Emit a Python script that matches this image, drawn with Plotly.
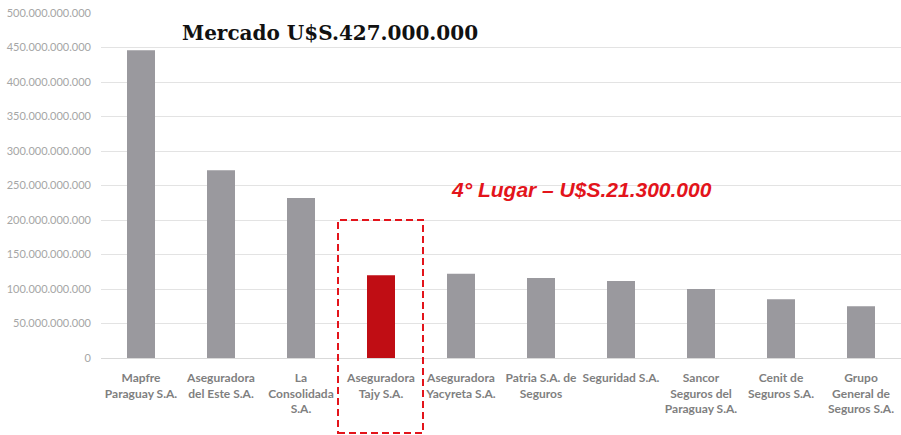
import plotly.graph_objects as go

categories = [
    "Mapfre<br>Paraguay S.A.",
    "Aseguradora<br>del Este S.A.",
    "La<br>Consolidada<br>S.A.",
    "Aseguradora<br>Tajy S.A.",
    "Aseguradora<br>Yacyreta S.A.",
    "Patria S.A. de<br>Seguros",
    "Seguridad S.A.",
    "Sancor<br>Seguros del<br>Paraguay S.A.",
    "Cenit de<br>Seguros S.A.",
    "Grupo<br>General de<br>Seguros S.A.",
]
values = [446e9, 272e9, 232e9, 120e9, 122e9, 116e9, 111.5e9, 100e9, 85e9, 75e9]
highlight_index = 3
y_ticks = [0, 50e9, 100e9, 150e9, 200e9, 250e9, 300e9, 350e9, 400e9, 450e9, 500e9]

title_text = "Mercado U$S.427.000.000"
note_text = "4° Lugar – U$S.21.300.000"

colors = ["#c00d14" if i == highlight_index else "#9a999e" for i in range(len(values))]

fig = go.Figure(go.Bar(x=categories, y=values, marker=dict(color=colors, line=dict(width=0)),
                       hoverinfo="skip"))

fig.update_layout(
    width=901, height=435,
    margin=dict(l=101, r=0, t=13, b=77),
    paper_bgcolor="white", plot_bgcolor="white",
    separators=",.",
    bargap=0.65,
    showlegend=False,
    xaxis=dict(tickfont=dict(family="Lato", size=12, color="#7f7f7f", weight=700),
               showgrid=False, showline=False, ticks="", ticklabelstandoff=11),
    yaxis=dict(range=[0, 500e9], tickvals=y_ticks, tickformat=",d",
               tickfont=dict(family="Lato", size=11, color="#a6a6a6"),
               showgrid=True, gridcolor="#e3e3e3", gridwidth=1,
               zeroline=True, zerolinecolor="#d9d9d9", zerolinewidth=1,
               ticks="", ticklabelstandoff=9),
    annotations=[
        dict(text="<b>" + title_text + "</b>", xref="paper", yref="paper",
             x=(330 - 101) / 800, y=(358 - 33) / 345, xanchor="center", yanchor="middle",
             showarrow=False, font=dict(family="DejaVu Serif", size=20, color="#111111")),
        dict(text="<b><i>" + note_text + "</i></b>", xref="paper", yref="paper",
             x=(581 - 101) / 800, y=(358 - 190) / 345, xanchor="center", yanchor="middle",
             showarrow=False, font=dict(family="Liberation Sans", size=21, color="#e3141b")),
    ],
    shapes=[
        dict(type="rect", xref="paper", yref="paper",
             x0=(338 - 101) / 800, x1=(423 - 101) / 800,
             y0=(358 - 433) / 345, y1=(358 - 220) / 345,
             line=dict(color="#e3141b", width=2, dash="7px,4px"), fillcolor="rgba(0,0,0,0)"),
    ],
)

fig.write_html("out.html", config={"displayModeBar": False},
               post_script="document.body.style.margin='0';")
